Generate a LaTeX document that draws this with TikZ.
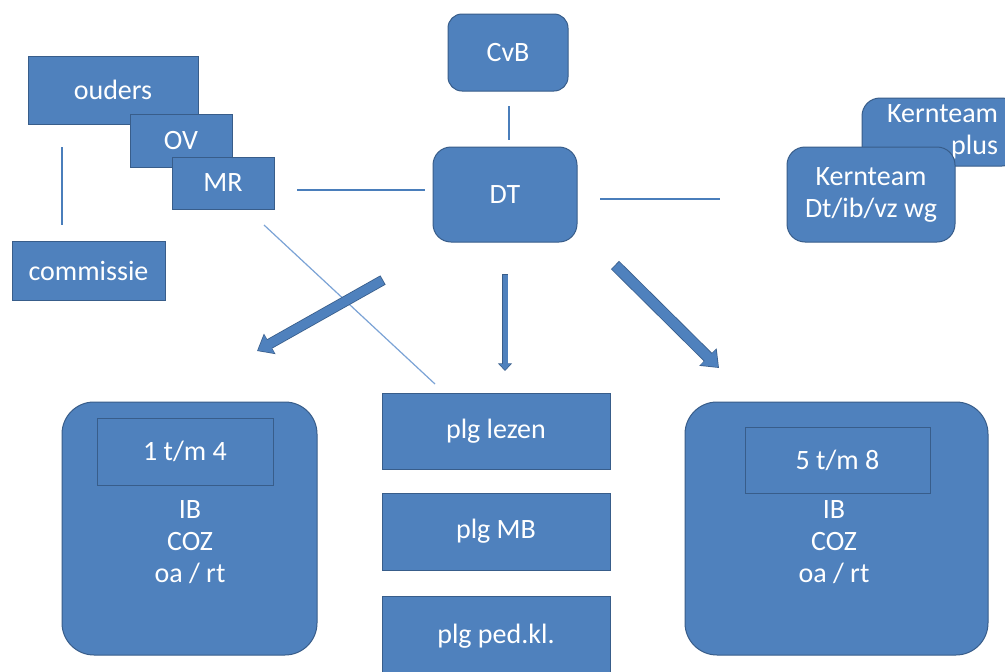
\documentclass[tikz,border=0pt]{standalone}
\usepackage{fontspec}
\setmainfont{Carlito}
\usetikzlibrary{arrows.meta,calc}
\definecolor{fillc}{HTML}{4F81BD}
\definecolor{edgec}{HTML}{385D8A}
\definecolor{linec}{HTML}{4A7EBB}
\definecolor{thinc}{HTML}{7BA3D6}
\tikzset{
  boxst/.style={draw=edgec, fill=fillc, text=white, line width=1pt, inner sep=0pt,
    align=center, font=\fontsize{28}{32}\selectfont},
  rbox/.style={boxst, rounded corners=#1},
  plain/.style={text=white, inner sep=0pt, align=center, font=\fontsize{28}{32}\selectfont},
  conn/.style={draw=linec, line width=1.6pt},
  thinconn/.style={draw=thinc, line width=1.2pt},
}
\newcommand\BlkArrow[5]{% from, to, shaft, headwidth, headlength
  \draw[line width=#3+1.6pt, edgec, line cap=butt,
    -{Triangle[width=#4+2.6pt,length=#5+1.6pt,fill=edgec,color=edgec]}] (#1) -- (#2);
  \draw[line width=#3, fillc, line cap=butt, shorten <=0.8pt, shorten >=1.1pt,
    -{Triangle[width=#4,length=#5,fill=fillc,color=fillc]}] (#1) -- (#2);
}
\begin{document}
\begin{tikzpicture}[x=1pt,y=-1pt]
\clip (0,0) rectangle (1005,672);
\fill[white] (0,0) rectangle (1005,672);

% top left group
\node[boxst, minimum width=170pt, minimum height=68pt] (ouders) at (113,90) {ouders};
\node[boxst, minimum width=102pt, minimum height=53pt] (ov) at (181,140.5) {OV};
\node[boxst, minimum width=102pt, minimum height=52pt] (mr) at (223,183) {MR};
\node[boxst, minimum width=153pt, minimum height=59pt] (commissie) at (88.5,270.5) {commissie};

% centre
\node[rbox=14pt, minimum width=120pt, minimum height=77pt] (cvb) at (508,52.5) {CvB};
\node[rbox=18pt, minimum width=144pt, minimum height=95pt] (dt) at (505,194.5) {DT};

% right
\node[rbox=18pt, minimum width=158pt, minimum height=68pt, text width=114pt, align=right] (kplus) at (941,132) {Kernteam\\plus};
\node[rbox=18pt, minimum width=168pt, minimum height=95pt] (kern) at (871,194.5) {Kernteam\\Dt/ib/vz wg};

% bottom left
\node[rbox=32pt, minimum width=255pt, minimum height=253pt] (left) at (189.5,528.5) {};
\node[boxst, minimum width=176pt, minimum height=67pt] (lin) at (185,451.5) {1 t/m 4};
\node[plain] (ltxt) at (190,542) {IB\\COZ\\oa / rt};

% bottom right
\node[rbox=32pt, minimum width=303pt, minimum height=253pt] (right) at (836.5,528.5) {};
\node[boxst, minimum width=185pt, minimum height=66pt] (rin) at (837.5,460) {5 t/m 8};
\node[plain] (rtxt) at (834,542) {IB\\COZ\\oa / rt};

% bottom middle
\node[boxst, minimum width=228pt, minimum height=76pt] (lezen) at (496,431) {plg lezen};
\node[boxst, minimum width=228pt, minimum height=77pt] (mb) at (496,531.5) {plg MB};
\node[boxst, minimum width=228pt, minimum height=80pt] (ped) at (496,636) {plg ped.kl.};

% connector end points
\coordinate (oc1) at (62,147);
\coordinate (oc2) at (62,225);
\coordinate (md1) at (297,190);
\coordinate (md2) at (425,190);
\coordinate (cd1) at (509,106);
\coordinate (cd2) at (509,140);
\coordinate (dk1) at (600,199);
\coordinate (dk2) at (720,199);
\coordinate (ml1) at (264,225);
\coordinate (ml2) at (435,384);

\draw[conn] (oc1) -- (oc2);
\draw[conn] (md1) -- (md2);
\draw[conn] (cd1) -- (cd2);
\draw[conn] (dk1) -- (dk2);
\draw[thinconn] (ml1) -- (ml2);

% block arrows
\coordinate (la1) at (383,280);
\coordinate (la2) at (257,351);
\coordinate (ma1) at (505,274);
\coordinate (ma2) at (505,371);
\coordinate (ra1) at (615,265);
\coordinate (ra2) at (719,368);
\BlkArrow{la1}{la2}{9pt}{20pt}{13pt}
\BlkArrow{ma1}{ma2}{5pt}{11pt}{6pt}
\BlkArrow{ra1}{ra2}{10pt}{21pt}{14pt}
\end{tikzpicture}
\end{document}
